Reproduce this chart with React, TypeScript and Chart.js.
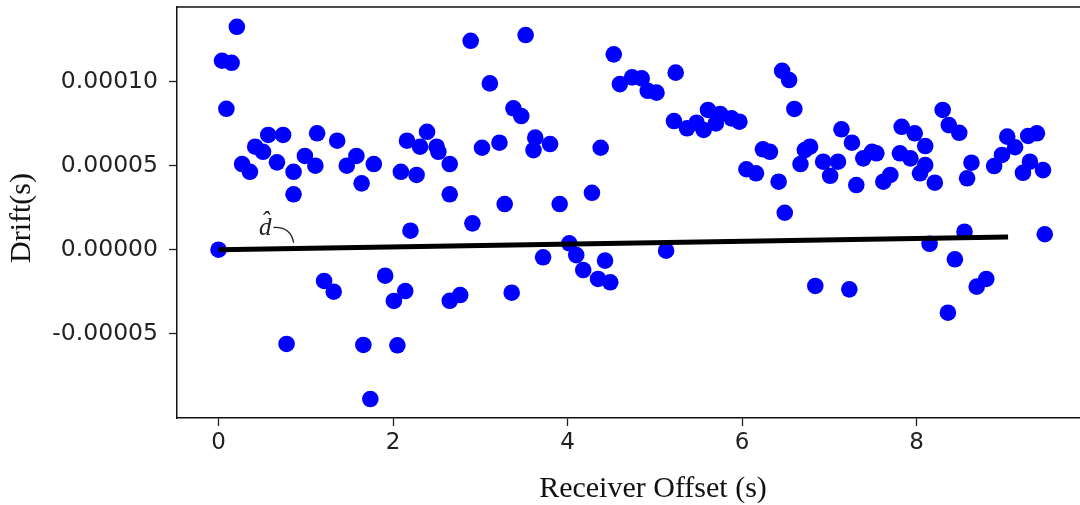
import React, { useEffect, useRef } from "react";
import { Chart, registerables } from "chart.js";

Chart.register(...registerables);

const xOffsets = [
  0.0, 0.04, 0.15, 0.09, 0.21, 0.27, 0.36, 0.42, 0.51, 0.57, 0.67, 0.74, 0.78, 0.86, 0.86, 0.99,
  1.11, 1.13, 1.21, 1.32, 1.36, 1.47, 1.58, 1.64, 1.66, 1.74, 1.78, 1.91, 2.01, 2.05, 2.09, 2.14,
  2.16, 2.2, 2.27, 2.31, 2.39, 2.5, 2.52, 2.65, 2.65, 2.65, 2.77, 2.89, 2.91, 3.02, 3.11, 3.22,
  3.28, 3.36, 3.38, 3.47, 3.52, 3.61, 3.63, 3.72, 3.8, 3.91, 4.02, 4.1, 4.18, 4.28, 4.35, 4.38,
  4.43, 4.49, 4.53, 4.6, 4.74, 4.85, 4.92, 5.02, 5.13, 5.24, 5.22, 5.37, 5.48, 5.56, 5.61, 5.7,
  5.75, 5.88, 5.97, 6.05, 6.16, 6.24, 6.32, 6.42, 6.46, 6.49, 6.54, 6.6, 6.67, 6.72, 6.78, 6.84,
  6.93, 7.01, 7.1, 7.14, 7.23, 7.26, 7.31, 7.39, 7.49, 7.54, 7.62, 7.7, 7.81, 7.83, 7.93, 7.98,
  8.04, 8.1, 8.1, 8.15, 8.21, 8.3, 8.36, 8.37, 8.44, 8.49, 8.55, 8.58, 8.63, 8.69, 8.8, 8.89,
  8.98, 9.04, 9.13, 9.22, 9.28, 9.3, 9.38, 9.45, 9.47,
];

const drifts = [
  0.0, 0.0001125, 0.0001113, 0.0000839, 0.0001327, 0.000051, 0.0000464, 0.0000613, 0.0000583,
  0.0000683, 0.000052, 0.0000683, -0.0000561, 0.0000464, 0.000033, 0.0000558,
  0.00005, 0.0000693, -0.0000186, -0.000025, 0.0000649, 0.00005, 0.0000558, 0.0000395,
  -0.0000567, -0.0000889, 0.000051, -0.0000155, -0.0000305, -0.0000569, 0.0000464, -0.0000246,
  0.0000649, 0.0000113, 0.0000445, 0.0000613, 0.0000702, 0.0000613, 0.0000583, 0.000051,
  0.000033, -0.0000304, -0.000027, 0.0001244, 0.0000157, 0.0000607, 0.000099, 0.0000637,
  0.0000272, -0.0000256, 0.0000842, 0.0000796, 0.0001278, 0.0000593, 0.0000667, -0.0000045,
  0.0000629, 0.0000272, 0.0000038, -0.0000032, -0.0000121, 0.0000339, -0.0000174, 0.0000607,
  -0.0000065, -0.0000194, 0.0001163, 0.0000986, 0.0001026, 0.000102, 0.0000946, 0.0000935,
  -0.0000006, 0.0001054, 0.0000766, 0.0000723, 0.0000756, 0.0000713, 0.0000832, 0.0000752,
  0.0000808, 0.0000782, 0.0000762, 0.0000479, 0.0000455, 0.0000598, 0.0000583, 0.0000405,
  0.0001065, 0.000022, 0.000101, 0.0000838, 0.000051, 0.0000593, 0.0000613, -0.0000216,
  0.0000524, 0.000044, 0.0000524, 0.0000717, -0.0000236, 0.0000637, 0.0000385, 0.0000544,
  0.0000583, 0.0000574, 0.0000405, 0.0000445, 0.0000574, 0.0000732, 0.0000544, 0.0000693,
  0.0000455, 0.0000617, 0.0000504, 0.0000035, 0.0000399, 0.0000832, -0.0000375, 0.0000742,
  -0.0000057, 0.0000696, 0.0000107, 0.0000425, 0.0000518, -0.000022, -0.0000174, 0.0000498,
  0.0000564, 0.0000673, 0.000061, 0.0000458, 0.0000677, 0.0000524, 0.0000693, 0.0000474, 0.0000092,
];

const fitX = [0, 9.05];
const fitY = [0, 0.0000075];

const xTicks = [0, 2, 4, 6, 8];
const yTicks = [-0.00005, 0, 0.00005, 0.0001];

const xTitle = "Receiver Offset (s)";
const yTitle = "Drift(s)";
const annotationText = "d\u0302";
const annotationX = 0.86;

export default function App() {
  const ref = useRef<HTMLCanvasElement | null>(null);

  useEffect(() => {
    document.body.style.margin = "0";
    const canvas = ref.current;
    if (!canvas) return;

    const decor = {
      id: "decor",
      afterDatasetsDraw(chart: any) {
        const ctx = chart.ctx;
        const xs = chart.scales.x;
        const ys = chart.scales.y;
        const ay = fitY[0] + ((fitY[1] - fitY[0]) * (annotationX - fitX[0])) / (fitX[1] - fitX[0]);
        const px = xs.getPixelForValue(annotationX);
        const py = ys.getPixelForValue(ay);
        ctx.save();
        ctx.strokeStyle = "#222";
        ctx.lineWidth = 1.3;
        ctx.beginPath();
        ctx.moveTo(px - 20, py - 21);
        ctx.quadraticCurveTo(px - 3, py - 22, px, py - 6);
        ctx.stroke();
        ctx.fillStyle = "#222";
        ctx.font = "italic 25px 'Liberation Serif'";
        ctx.textAlign = "right";
        ctx.textBaseline = "alphabetic";
        ctx.fillText(annotationText, px - 22, py - 14);
        ctx.restore();
      },
      afterDraw(chart: any) {
        const ctx = chart.ctx;
        const a = chart.chartArea;
        ctx.save();
        ctx.strokeStyle = "#111";
        ctx.lineWidth = 1.5;
        ctx.beginPath();
        ctx.moveTo(a.left - 0.75, a.top);
        ctx.lineTo(a.right + 2, a.top);
        ctx.stroke();
        ctx.fillStyle = "#111";
        ctx.font = "30px 'Liberation Serif'";
        ctx.textAlign = "center";
        ctx.textBaseline = "middle";
        ctx.fillText(xTitle, 653, 489);
        ctx.translate(22, 218);
        ctx.rotate(-Math.PI / 2);
        ctx.fillText(yTitle, 0, 0);
        ctx.restore();
      },
    };

    const chart = new Chart(canvas, {
      type: "scatter",
      data: {
        datasets: [
          {
            type: "line",
            label: "fit",
            data: fitX.map((x, i) => ({ x, y: fitY[i] })),
            borderColor: "#000",
            borderWidth: 5,
            pointRadius: 0,
            borderCapStyle: "butt",
            order: 0,
          } as any,
          {
            type: "scatter",
            label: "drift",
            data: xOffsets.map((x, i) => ({ x, y: drifts[i] })),
            backgroundColor: "#0000ff",
            borderWidth: 0,
            pointRadius: 8.3,
            order: 1,
            clip: false,
          } as any,
        ],
      },
      options: {
        animation: false,
        responsive: false,
        maintainAspectRatio: false,
        layout: { autoPadding: false, padding: { top: 7, left: 0, right: 0, bottom: 0 } },
        plugins: { legend: { display: false }, tooltip: { enabled: false } },
        scales: {
          x: {
            type: "linear",
            min: -0.476,
            max: 9.874,
            afterFit: (s: any) => {
              s.height = 87;
              s.paddingLeft = 0;
              s.paddingRight = 0;
            },
            afterBuildTicks: (s: any) => {
              s.ticks = xTicks.map((v) => ({ value: v }));
            },
            grid: { drawOnChartArea: false, tickLength: 8, color: "#222", tickWidth: 1.3 },
            border: { display: true, color: "#111", width: 1.5 },
            ticks: {
              color: "#222",
              padding: 3,
              font: { family: "DejaVu Sans", size: 23 },
              callback: (v: any) => String(v),
              maxRotation: 0,
            },
          },
          y: {
            type: "linear",
            min: -0.0001002,
            max: 0.0001445,
            afterFit: (s: any) => {
              s.width = 177;
              s.paddingTop = 0;
              s.paddingBottom = 0;
            },
            afterBuildTicks: (s: any) => {
              s.ticks = yTicks.map((v) => ({ value: v }));
            },
            grid: { drawOnChartArea: false, tickLength: 8, color: "#222", tickWidth: 1.3 },
            border: { display: true, color: "#111", width: 1.5 },
            ticks: {
              color: "#222",
              padding: 11,
              font: { family: "DejaVu Sans", size: 23.5 },
              callback: (v: any) => Number(v).toFixed(5),
            },
          },
        },
      },
      plugins: [decor],
    });

    return () => chart.destroy();
  }, []);

  return (
    <div style={{ position: "fixed", left: 0, top: 0, width: 1080, height: 505, background: "#fff" }}>
      <canvas ref={ref} width={1080} height={505} style={{ width: 1080, height: 505, display: "block" }} />
    </div>
  );
}
